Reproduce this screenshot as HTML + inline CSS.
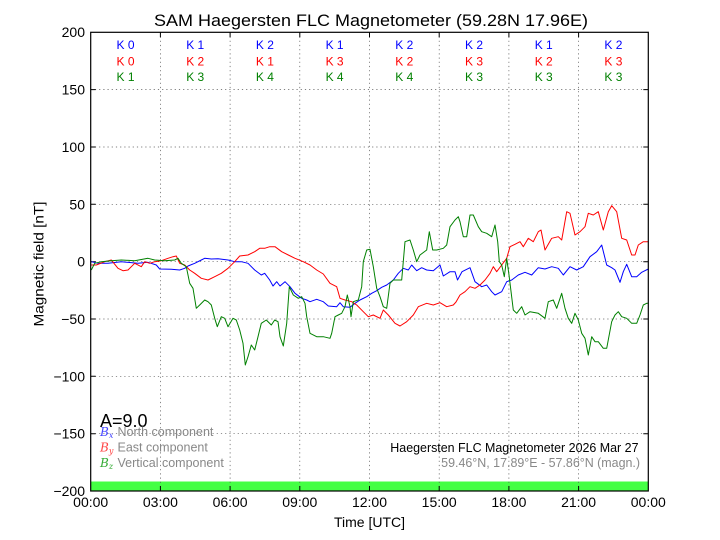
<!DOCTYPE html>
<html><head><meta charset="utf-8"><style>
html,body{margin:0;padding:0;background:#fff;}
svg{display:block;font-family:"Liberation Sans",sans-serif;}
</style></head><body>
<svg width="720" height="540" viewBox="0 0 720 540" xmlns="http://www.w3.org/2000/svg">
<rect width="720" height="540" fill="#fff"/>
<!-- green status bar -->
<rect x="90.7" y="481.5" width="557.6" height="9.5" fill="#44ff44"/>
<!-- grid -->
<g stroke="#555" stroke-width="0.7" stroke-dasharray="1.2,3" fill="none">
<line x1="160.4" y1="32.3" x2="160.4" y2="491"/>
<line x1="230.1" y1="32.3" x2="230.1" y2="491"/>
<line x1="299.8" y1="32.3" x2="299.8" y2="491"/>
<line x1="369.5" y1="32.3" x2="369.5" y2="491"/>
<line x1="439.2" y1="32.3" x2="439.2" y2="491"/>
<line x1="508.9" y1="32.3" x2="508.9" y2="491"/>
<line x1="578.6" y1="32.3" x2="578.6" y2="491"/>
<line x1="90.7" y1="89.6" x2="648.3" y2="89.6"/>
<line x1="90.7" y1="147" x2="648.3" y2="147"/>
<line x1="90.7" y1="204.3" x2="648.3" y2="204.3"/>
<line x1="90.7" y1="261.7" x2="648.3" y2="261.7"/>
<line x1="90.7" y1="319" x2="648.3" y2="319"/>
<line x1="90.7" y1="376.3" x2="648.3" y2="376.3"/>
<line x1="90.7" y1="433.7" x2="648.3" y2="433.7"/>
</g>
<!-- ticks -->
<g stroke="#000" stroke-width="1">
<path d="M90.7 89.6h5M90.7 147h5M90.7 204.3h5M90.7 261.7h5M90.7 319h5M90.7 376.3h5M90.7 433.7h5
M648.3 89.6h-5M648.3 147h-5M648.3 204.3h-5M648.3 261.7h-5M648.3 319h-5M648.3 376.3h-5M648.3 433.7h-5
M160.4 491v-5M230.1 491v-5M299.8 491v-5M369.5 491v-5M439.2 491v-5M508.9 491v-5M578.6 491v-5
M160.4 32.3v5M230.1 32.3v5M299.8 32.3v5M369.5 32.3v5M439.2 32.3v5M508.9 32.3v5M578.6 32.3v5"/>
</g>
<!-- data -->
<g fill="none" stroke-width="1" stroke-linejoin="round">
<polyline stroke="#0000ff" points="91.3,261.7 98,263.3 108,263.3 121.3,261.7 138,263.3 148,262.3 156.3,265 159.7,269 171.3,269.3 179.7,270 184.7,268.3 188,266 194.7,263.3 201.3,260 204.7,258.3 211.3,259 218,258.7 228,260 234.7,261.7 241.3,261.7 248,263.3 254.7,270 261.3,275 264.7,273.3 269.7,280 273,286 276.7,281.7 280,286 285,281.7 290,286.7 295,293.3 301.7,298.3 306.7,300 310,301.7 316.7,299.3 323.3,301.7 328.3,306 336.7,306.7 340,302.7 343.3,306.7 350,307.3 355,303.3 360,300 366.7,296.7 371.7,293.3 376.7,290.7 381.7,287.3 386.7,285 393.3,280 398.3,273.3 403.3,268.3 408.3,270 411.7,265 416.7,270.7 421.7,267.7 426.7,270 433.3,270.7 440,265 443.3,276 450,271.7 455,271.7 457.5,280 462,271.7 470,267.7 475,281.7 481.7,286.7 486.7,285 491.7,291.7 495,295 501.7,291.7 506.7,281.7 511.7,280 518.3,275 525,272.3 531.7,275 538.3,267.7 545,269 551.7,266.7 558.3,268.3 563.3,275 570,266.7 576.7,270 583.3,266.7 590,256.7 596.7,251.7 601.7,245 606.7,265 611.7,267.7 615,270 620,282.3 623.3,271.7 626.7,264.3 631.7,276.7 636.7,276.7 641.7,272.3 648.3,269"/>
<polyline stroke="#ff0000" points="91.3,265 96.3,265 104.7,261.7 111.3,260 118,268.3 123,270.7 128,270 134.7,263.3 141.3,266.7 144.7,261.7 149.7,263.3 154.7,261.7 161.3,260.7 168,258.3 173,256.7 176.3,256 179.7,263.3 184.7,265 189.7,270 194.7,273.3 201.3,278.3 208,280 214.7,276.7 221.3,273.3 228,268.3 234.7,261.7 239.7,256 248,255 254.7,251.7 259.7,248.3 264.7,248.3 269.7,246.7 275,246.7 281.7,251.7 288.3,255 295,258.3 303.3,261.7 310,265 316.7,270 323.3,274 330,283.3 336.7,286.7 340,298.3 345,300 351.7,301.7 356.7,305 363.3,311.7 368.3,316.7 373.3,315 380,318.3 383.3,310 388.3,315 395,323.3 400,326 406.7,321.7 413.3,315 418.3,306.7 426.7,303.3 433.3,305 440,302.7 446.7,306.7 453.3,305 456,302 460,295 465,291.7 470,286.7 475,288.3 480,285 485,280 490,273.3 493.3,266.7 496.7,271.7 501.7,265 506.7,258.3 510,246.7 515,244.3 520,241.7 523.3,246.7 528.3,238.3 533.3,241.7 538.3,231.7 541,230 545,250 551.7,238.3 558.3,236.7 561.7,240 566.7,211.7 570,213.3 575,235 580,231.7 585,226.7 588.3,213.3 593.3,215 598.3,211.7 603.3,230 608.3,211.7 611.7,205.7 616.7,211.7 621.7,238.3 626.7,240 631.7,255 635,255 638.3,245 643.3,241.7 648.3,241.7"/>
<polyline stroke="#008000" points="91.3,270 94.7,263.3 101.3,261.7 111.3,260.7 121.3,260 134.7,260.7 148,258.3 154.7,260 164.7,260.7 174.7,260 178,258.3 181.3,263.3 186.3,266.7 189.7,283.3 193,288.3 196.3,308.3 199.7,305 204.7,300 208,301.7 211.3,305 214.7,318.3 217.3,326.7 221.3,316.7 224.7,318.3 228,326.7 233,318.3 236.3,320 239.7,330 243,343.3 245.3,365 248,356.7 251.3,345 254.7,350 258,336.7 261.3,323.3 266.3,320 271.3,325 274.7,320 278,321.7 280,336.7 283.3,346 286.7,323.3 289.3,286.7 293.3,295 298.3,298.3 301.7,296.7 305,303.3 306.7,316.7 310,333.3 316.7,336.7 323.3,336.7 330,338.3 331.7,333.3 335,316.7 338.3,315 341.7,313.3 345,306.7 347.3,295 350,306.7 351,316.7 353.3,301.7 358.3,300 361.7,286.7 363.3,261.7 366.7,250 370,249.3 373.3,266.7 376.7,288.3 380,296.7 383.3,306.7 386.7,308.3 390,283.3 393.3,280 396.7,280 401.7,280 405,241.7 410,240 413.3,250 416.7,261.7 420,255 426.7,250 429.3,231.7 432.7,250 436.7,250 443.3,248.3 446.7,245 450,226.7 455,220 458.3,216.7 460,221.7 463.3,236.7 466.7,236.7 470,215 473.3,215 478.3,226.7 481.7,231.7 486.7,233.3 491.7,236.7 495,225 497.7,241.7 499.3,261.7 501.7,265 504.3,276.7 506.7,258.3 509,275 513.3,310 516.7,313.3 521.7,306.7 525,315 530,311.7 538.3,313.3 545,318.3 548.3,301.7 553.3,300 556.7,308.3 561.7,293.3 565,308.3 568.3,318.3 571.7,323.3 575,313.3 578.3,320 581.7,333.3 585,338.3 588.3,355 591.7,336.7 595,341.7 598.3,341.7 603.3,348.3 606.7,348.3 611.7,321.7 615,315 618.3,311.7 621.7,316.7 626.7,318.3 631.7,323.3 636.7,323.3 640,315 643.3,305 646.7,303.3 648.3,303.3"/>
</g>
<!-- axes frame -->
<rect x="90.7" y="32.3" width="557.6" height="458.7" fill="none" stroke="#000" stroke-width="1.2"/>
<!-- title -->
<text x="371" y="26" font-size="17" text-anchor="middle" textLength="434" lengthAdjust="spacingAndGlyphs">SAM Haegersten FLC Magnetometer (59.28N 17.96E)</text>
<!-- y tick labels -->
<g font-size="14" text-anchor="end">
<text x="85" y="37">200</text>
<text x="85" y="94.6">150</text>
<text x="85" y="152">100</text>
<text x="85" y="209.3">50</text>
<text x="85" y="266.7">0</text>
<text x="85" y="324">−50</text>
<text x="85" y="381.3">−100</text>
<text x="85" y="438.7">−150</text>
<text x="85" y="496">−200</text>
</g>
<!-- x tick labels -->
<g font-size="14" text-anchor="middle">
<text x="90.7" y="507">00:00</text>
<text x="160.4" y="507">03:00</text>
<text x="230.1" y="507">06:00</text>
<text x="299.8" y="507">09:00</text>
<text x="369.5" y="507">12:00</text>
<text x="439.2" y="507">15:00</text>
<text x="508.9" y="507">18:00</text>
<text x="578.6" y="507">21:00</text>
<text x="648.3" y="507">00:00</text>
</g>
<text x="369.5" y="527" font-size="14" text-anchor="middle">Time [UTC]</text>
<text transform="translate(43.5,264) rotate(-90)" font-size="14" text-anchor="middle" textLength="125" lengthAdjust="spacingAndGlyphs">Magnetic field [nT]</text>
<!-- K indices -->
<g font-size="12" text-anchor="middle">
<g fill="#0000ff">
<text x="125.5" y="49">K 0</text><text x="195.2" y="49">K 1</text><text x="264.9" y="49">K 2</text><text x="334.6" y="49">K 1</text><text x="404.3" y="49">K 2</text><text x="474" y="49">K 2</text><text x="543.7" y="49">K 1</text><text x="613.4" y="49">K 2</text>
</g>
<g fill="#ff0000">
<text x="125.5" y="65.3">K 0</text><text x="195.2" y="65.3">K 2</text><text x="264.9" y="65.3">K 1</text><text x="334.6" y="65.3">K 3</text><text x="404.3" y="65.3">K 2</text><text x="474" y="65.3">K 3</text><text x="543.7" y="65.3">K 2</text><text x="613.4" y="65.3">K 3</text>
</g>
<g fill="#008000">
<text x="125.5" y="81">K 1</text><text x="195.2" y="81">K 3</text><text x="264.9" y="81">K 4</text><text x="334.6" y="81">K 4</text><text x="404.3" y="81">K 4</text><text x="474" y="81">K 3</text><text x="543.7" y="81">K 3</text><text x="613.4" y="81">K 3</text>
</g>
</g>
<!-- A index and legend -->
<text x="100" y="427" font-size="18">A=9.0</text>
<g font-size="12.5">
<text x="100" y="436"><tspan fill="#4444ff" font-family="'DejaVu Serif','Liberation Serif',serif" font-style="italic" font-size="12">B</tspan><tspan fill="#4444ff" font-family="'DejaVu Serif','Liberation Serif',serif" font-style="italic" font-size="8" dy="2">x</tspan><tspan fill="#888" dy="-2" x="117.5">North component</tspan></text>
<text x="100" y="451.5"><tspan fill="#ff4444" font-family="'DejaVu Serif','Liberation Serif',serif" font-style="italic" font-size="12">B</tspan><tspan fill="#ff4444" font-family="'DejaVu Serif','Liberation Serif',serif" font-style="italic" font-size="8" dy="2">y</tspan><tspan fill="#888" dy="-2" x="117.5">East component</tspan></text>
<text x="100" y="467"><tspan fill="#33aa33" font-family="'DejaVu Serif','Liberation Serif',serif" font-style="italic" font-size="12">B</tspan><tspan fill="#33aa33" font-family="'DejaVu Serif','Liberation Serif',serif" font-style="italic" font-size="8" dy="2">z</tspan><tspan fill="#888" dy="-2" x="117.5">Vertical component</tspan></text>
</g>
<text x="638.5" y="452" font-size="12.45" text-anchor="end">Haegersten FLC Magnetometer 2026 Mar 27</text>
<text x="640" y="467" font-size="12.45" text-anchor="end" fill="#888">59.46°N, 17.89°E - 57.86°N (magn.)</text>
</svg>
</body></html>
